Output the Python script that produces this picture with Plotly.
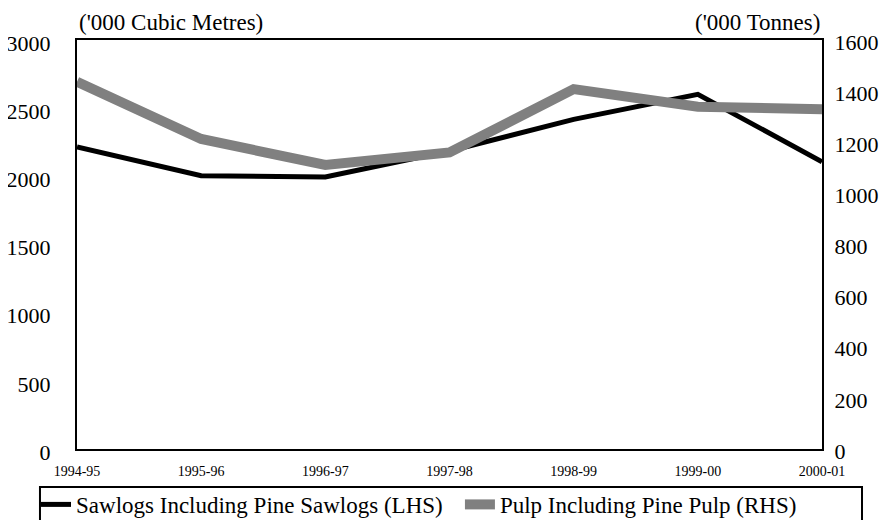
import plotly.graph_objects as go

years = ['1994-95', '1995-96', '1996-97', '1997-98', '1998-99', '1999-00', '2000-01']
sawlogs = [2215, 2005, 1995, 2186, 2418, 2602, 2107]   # '000 cubic metres (LHS)
pulp = [1437, 1213, 1111, 1160, 1408, 1339, 1329]      # '000 tonnes (RHS)

font = 'Liberation Serif'
fig = go.Figure()

fig.add_trace(go.Scatter(
    x=years, y=pulp, yaxis='y2', mode='lines',
    name='Pulp Including Pine Pulp (RHS)', legend='legend2',
    line=dict(color='#808080', width=10)))

fig.add_trace(go.Scatter(
    x=years, y=sawlogs, mode='lines',
    name='Sawlogs Including Pine Sawlogs (LHS)', legend='legend',
    line=dict(color='black', width=5)))

leg = dict(orientation='h', y=-0.083, xanchor='left', yanchor='top',
           font=dict(size=23, family=font), bgcolor='rgba(0,0,0,0)')

# page body has an 8px margin, so the figure is sized/placed to compensate
fig.update_layout(
    width=881, height=512,
    margin=dict(l=69, r=67, t=32, b=71, autoexpand=False),
    paper_bgcolor='white', plot_bgcolor='white',
    font=dict(family=font, color='black'),
    showlegend=True,
    legend=dict(leg, x=-0.055),
    legend2=dict(leg, x=0.514),
    xaxis=dict(type='category', range=[0, 6], showgrid=False, zeroline=False,
               showline=True, linecolor='black', linewidth=2, mirror=True,
               ticks='', tickfont=dict(size=14), ticklabelstandoff=8),
    yaxis=dict(range=[0, 3000], dtick=500, showgrid=False, zeroline=False,
               showline=True, linecolor='black', linewidth=2,
               ticks='', tickfont=dict(size=22), ticklabelstandoff=20,
               ticklabelshift=3),
    yaxis2=dict(range=[0, 1600], dtick=200, overlaying='y', side='right',
                showgrid=False, zeroline=False, showline=True, linecolor='black',
                linewidth=2, ticks='', tickfont=dict(size=22), ticklabelstandoff=6,
                ticklabelshift=2),
    shapes=[dict(type='rect', xref='paper', yref='paper',
                 x0=-0.0497, x1=1.0537, y0=-0.093, y1=-0.2,
                 line=dict(color='black', width=2))],
    annotations=[
        dict(text="('000 Cubic Metres)", xref='paper', yref='paper', x=0, y=1.0,
             xanchor='left', yanchor='bottom', showarrow=False, yshift=3,
             font=dict(size=23, family=font)),
        dict(text="('000 Tonnes)", xref='paper', yref='paper', x=1.0, y=1.0,
             xanchor='right', yanchor='bottom', showarrow=False, yshift=3,
             font=dict(size=23, family=font)),
    ],
)

fig.write_html('out.html')
